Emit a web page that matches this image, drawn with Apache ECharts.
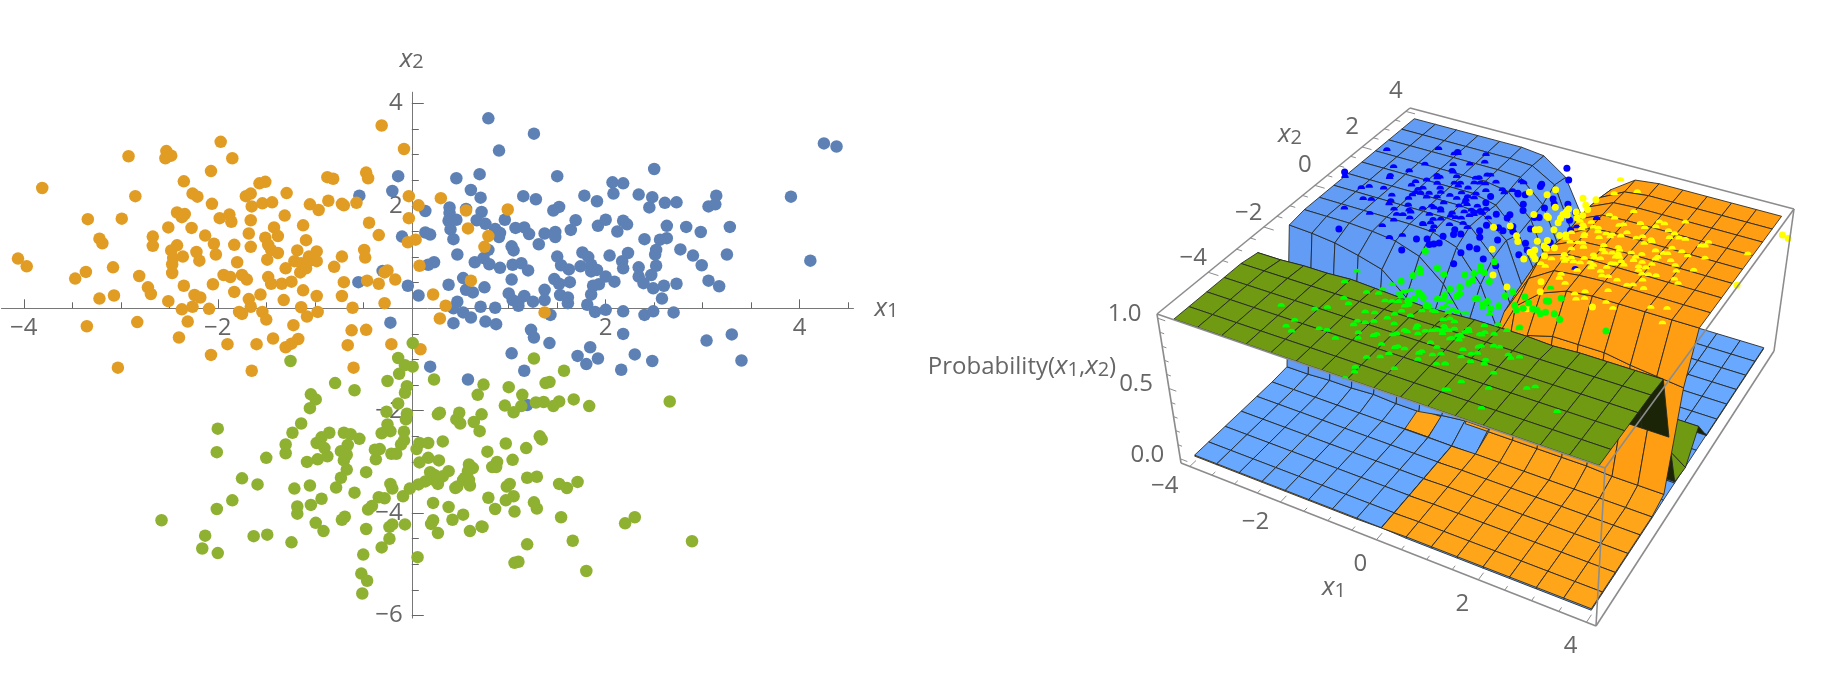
<!DOCTYPE html>
<html><head><meta charset="utf-8">
<style>html,body{margin:0;padding:0;background:#fff}#c{width:1824px;height:674px}</style>
<script src="https://cdn.jsdelivr.net/npm/echarts@6/dist/echarts.min.js"></script>
</head><body><div id="c"></div>
<script>
// ---------- data: [x1, x2]
const class1 = [[.79,3.71],[1.26,3.41],[.90,3.08],[4.25,3.22],[4.38,3.16],[-.14,2.58],[.46,2.54],[.70,2.62],[1.50,2.58],[2.50,2.72],[2.07,2.46],[2.18,2.44],[-.54,2.20],[-.20,2.29],[.61,2.31],[.71,2.16],[1.15,2.19],[1.28,2.13],[1.78,2.20],[1.91,2.09],[2.08,2.24],[2.34,2.22],[2.48,2.17],[2.45,1.97],[2.61,2.06],[2.73,2.07],[3.14,2.20],[3.06,1.99],[3.13,2.03],[3.91,2.18],[.14,1.90],[.39,1.97],[.56,1.94],[.72,1.88],[1.46,1.91],[1.52,1.98],[.39,1.86],[.38,1.71],[.46,1.73],[.67,1.72],[.76,1.65],[.96,1.73],[1.69,1.72],[2.00,1.73],[2.18,1.71],[2.22,1.64],[1.92,1.61],[2.12,1.50],[2.63,1.61],[2.83,1.59],[2.98,1.49],[3.28,1.59],[.14,1.48],[.19,1.44],[.40,1.54],[.43,1.35],[.86,1.55],[.91,1.47],[.90,1.39],[1.07,1.57],[1.16,1.58],[1.21,1.45],[1.37,1.46],[1.48,1.49],[1.48,1.39],[1.64,1.53],[-.10,1.40],[1.31,1.25],[1.03,1.21],[1.05,1.13],[.79,1.14],[2.40,1.35],[2.56,1.34],[2.63,1.37],[2.52,1.14],[2.51,1.05],[2.77,1.15],[2.90,1.03],[3.25,1.05],[4.11,.93],[.47,1.05],[1.50,1.01],[1.76,1.09],[1.82,1.00],[2.04,1.03],[2.23,1.08],[2.17,.92],[.74,.98],[.65,.90],[.80,.86],[.91,.79],[1.04,.85],[1.13,.88],[1.20,.74],[.17,.85],[.23,.90],[1.54,.84],[1.62,.76],[1.74,.82],[1.85,.85],[1.91,.75],[1.85,.72],[2.18,.78],[2.34,.80],[2.52,.83],[2.99,.84],[-.30,.73],[1.03,.56],[.53,.59],[1.47,.57],[1.52,.48],[1.63,.51],[2.00,.62],[2.09,.52],[1.87,.44],[1.93,.47],[1.85,.27],[2.34,.62],[2.47,.65],[2.39,.49],[2.49,.39],[2.60,.44],[2.73,.48],[3.06,.54],[3.17,.43],[-.04,.44],[-.55,.51],[.38,.46],[.56,.36],[.63,.31],[.75,.41],[1.37,.36],[.07,.25],[1.00,.29],[1.04,.16],[1.10,.13],[1.16,.24],[1.25,.13],[1.37,.16],[1.53,.26],[1.61,.21],[1.61,.10],[2.58,.19],[.47,.13],[.43,0],[.71,.03],[.86,.01],[1.10,.05],[1.43,-.13],[1.81,.07],[1.89,-.07],[2.00,-.03],[2.18,-.06],[2.40,-.13],[2.49,-.06],[2.70,-.08],[.53,-.08],[.61,-.18],[-.22,-.28],[.43,-.29],[.76,-.26],[.87,-.31],[2.18,-.50],[3.30,-.51],[1.23,-.42],[1.26,-.57],[1.42,-.68],[1.84,-.76],[3.04,-.63],[1.03,-.88],[1.71,-.93],[1.92,-.98],[1.80,-1.09],[2.30,-.90],[2.48,-1.03],[3.40,-1.02],[2.16,-1.20],[1.16,-1.22],[.19,-1.14],[.58,-1.39],[1.19,-1.89]];
const class2 = [[-.31,3.57],[-.08,3.11],[-1.97,3.25],[-2.92,2.97],[-2.53,3.07],[-2.48,2.98],[-2.54,2.93],[-1.85,2.93],[-2.07,2.68],[-2.35,2.48],[-.47,2.65],[-.45,2.54],[-.87,2.56],[-.81,2.53],[-1.57,2.44],[-1.51,2.47],[-3.81,2.35],[-2.85,2.19],[-2.26,2.24],[-2.21,2.18],[-1.71,2.19],[-1.66,2.24],[-1.29,2.25],[-.03,2.19],[.30,2.15],[-2.06,2.04],[-1.65,1.99],[-1.54,2.05],[-1.44,2.07],[-1.05,2.03],[-.86,2.10],[-.72,2.04],[-.70,2.01],[-.57,2.06],[.07,2.01],[-.96,1.92],[.56,1.91],[.99,1.93],[-2.42,1.87],[-2.34,1.84],[-2.37,1.78],[-2.99,1.75],[-3.34,1.74],[-1.98,1.76],[-1.88,1.83],[-1.86,1.69],[-1.66,1.72],[-1.31,1.81],[-.03,1.76],[-.44,1.67],[-2.51,1.58],[-2.27,1.57],[-1.42,1.58],[-1.12,1.62],[-1.68,1.46],[.58,1.56],[-2.67,1.40],[-2.13,1.42],[-1.51,1.38],[-1.38,1.41],[-.34,1.43],[.79,1.41],[-3.22,1.36],[-3.19,1.27],[-2.67,1.22],[-1.83,1.24],[-2.04,1.26],[-1.66,1.20],[-1.09,1.33],[-1.48,1.24],[-1.45,1.14],[-2.42,1.23],[-2.48,1.13],[-2.22,1.10],[-2.02,1.05],[-.04,1.29],[.04,1.34],[.75,1.20],[-.49,1.14],[-1.18,1.13],[-1.38,1.08],[-.98,1.11],[-2.46,.98],[-2.36,1.01],[-2.19,.93],[-1.49,.95],[-1.06,1.01],[-.48,.99],[-.72,1.01],[-1.80,.90],[-1.21,.92],[-1.14,.88],[-1.06,.92],[-.98,.92],[-2.47,.86],[-3.08,.80],[-3.97,.82],[-4.06,.97],[-3.36,.71],[-2.81,.63],[-3.47,.58],[-2.47,.69],[-1.94,.65],[-1.87,.61],[-1.75,.65],[-1.70,.56],[-1.48,.61],[-1.30,.78],[-1.15,.70],[-.80,.81],[-1.09,.78],[.08,.83],[-.25,.74],[-.28,.70],[-.46,.54],[-.17,.56],[-.34,.48],[-.70,.51],[-1.34,.48],[-1.24,.52],[-1.45,.48],[-2.05,.47],[-2.35,.44],[.61,.54],[-2.72,.41],[-2.69,.28],[-1.83,.32],[-1.56,.27],[-1.12,.35],[-3.07,.25],[-3.22,.19],[-2.24,.26],[-2.18,.21],[-.98,.24],[-.72,.24],[.22,.27],[-2.51,.14],[-1.68,.18],[-1.32,.16],[-.28,.10],[.35,.05],[-2.37,-.02],[-2.26,.03],[-2.09,-.01],[-1.66,.03],[-1.78,-.07],[-1.75,-.11],[-1.54,-.07],[-1.50,-.22],[-1.14,.02],[-.97,-.07],[-1.08,-.16],[-.61,.01],[1.37,-.08],[.29,-.20],[-3.35,-.35],[-2.83,-.27],[-2.31,-.26],[-1.22,-.33],[-.62,-.43],[-.47,-.42],[-2.40,-.57],[-1.90,-.70],[-1.60,-.70],[-1.43,-.59],[-1.17,-.60],[-1.30,-.76],[-1.24,-.69],[-.66,-.72],[-.21,-.70],[.09,-.80],[-2.07,-.91],[-3.03,-1.16],[-1.65,-1.22],[-.60,-1.16]];
const class3 = [[.01,-.68],[-.14,-.97],[1.26,-.98],[-1.25,-1.03],[-.07,-1.11],[.01,-1.14],[-.13,-1.28],[1.57,-1.22],[.23,-1.39],[-.25,-1.42],[-.79,-1.46],[.74,-1.49],[1.00,-1.54],[1.42,-1.44],[1.38,-1.46],[-.05,-1.52],[-.59,-1.60],[-.07,-1.65],[.68,-1.69],[1.14,-1.69],[-1.04,-1.68],[-.99,-1.78],[-.14,-1.86],[-1.05,-1.95],[1.67,-1.78],[1.52,-1.82],[1.36,-1.83],[1.28,-1.84],[1.46,-1.91],[1.83,-1.91],[.96,-1.90],[1.13,-1.91],[1.05,-2.03],[2.66,-1.82],[-.26,-2.02],[-.05,-2.06],[.27,-2.07],[.29,-2.04],[.49,-2.04],[.72,-2.07],[-.06,-2.17],[.46,-2.17],[.50,-2.25],[.64,-2.22],[.70,-2.40],[-.25,-2.27],[-1.14,-2.25],[-2.00,-2.35],[-.22,-2.40],[-.31,-2.44],[-.08,-2.41],[-1.23,-2.43],[-.85,-2.43],[-.70,-2.43],[-.63,-2.46],[-.54,-2.55],[-.93,-2.52],[-.98,-2.63],[-1.30,-2.66],[1.32,-2.50],[1.34,-2.56],[.32,-2.60],[.97,-2.64],[.17,-2.63],[.08,-2.63],[-.08,-2.58],[-.11,-2.66],[-.66,-2.67],[1.18,-2.73],[.05,-2.75],[-2.01,-2.81],[-1.30,-2.83],[-1.50,-2.92],[-.38,-2.76],[-.33,-2.75],[-.21,-2.84],[-.16,-2.84],[-.90,-2.73],[-.87,-2.89],[-.73,-2.79],[-.67,-2.86],[-.70,-2.97],[-.97,-2.95],[-1.08,-3.00],[.78,-2.80],[-.37,-2.95],[.17,-2.92],[.28,-2.97],[.08,-3.01],[1.04,-2.96],[.88,-3.00],[.83,-3.10],[.87,-3.10],[.59,-3.05],[.63,-3.12],[.58,-3.18],[-.67,-3.15],[-.73,-3.31],[-.47,-3.20],[.19,-3.20],[.23,-3.25],[.38,-3.18],[.32,-3.28],[.23,-3.35],[.14,-3.38],[1.19,-3.31],[1.29,-3.29],[.55,-3.31],[.59,-3.35],[.53,-3.35],[.60,-3.46],[.27,-3.43],[.45,-3.51],[.47,-3.48],[-.22,-3.43],[-.20,-3.52],[-.02,-3.52],[.07,-3.44],[-.78,-3.50],[-1.21,-3.52],[-1.05,-3.46],[-1.59,-3.44],[-1.75,-3.32],[1.01,-3.43],[.98,-3.48],[1.52,-3.43],[1.60,-3.51],[1.71,-3.39],[-.59,-3.60],[-.34,-3.69],[-.28,-3.71],[-.09,-3.67],[.79,-3.70],[-.93,-3.72],[1.05,-3.67],[.97,-3.75],[1.26,-3.79],[-1.85,-3.75],[-1.18,-3.87],[-1.04,-3.84],[.22,-3.80],[.38,-3.88],[1.29,-3.91],[-.41,-3.86],[-.45,-3.93],[-2.01,-3.92],[.86,-3.92],[1.06,-3.97],[-1.18,-4.01],[.53,-4.03],[-.69,-4.07],[-.72,-4.13],[-2.58,-4.14],[1.54,-4.08],[.22,-4.14],[.20,-4.21],[.42,-4.13],[2.30,-4.08],[2.20,-4.20],[-.07,-4.22],[-.20,-4.22],[-.23,-4.27],[-.99,-4.19],[-.91,-4.35],[-.47,-4.31],[.72,-4.26],[.73,-4.27],[.60,-4.35],[.27,-4.39],[-2.13,-4.44],[-1.63,-4.45],[-1.49,-4.42],[-1.24,-4.57],[-.23,-4.50],[1.66,-4.54],[2.89,-4.55],[-.31,-4.67],[1.19,-4.61],[-2.16,-4.69],[-2.00,-4.78],[-.50,-4.81],[.06,-4.86],[1.06,-4.97],[1.10,-4.95],[1.80,-5.13],[-.52,-5.18],[-.46,-5.32],[-.51,-5.57]];

// surface grid lines
const x1Lines = [-4,-3.5,-3,-2.5,-2,-1.5,-1,-.5,0,.5,1,1.5,2,2.5,3,3.5,4];
const x2Lines = [4,3.4,2.8,2.2,1.6,1,.4,-.2,-.8,-1.4,-2,-2.6,-3.2,-3.8,-4.4,-5,-5.5];
// class probabilities (percent) at each grid node; rows follow x2Lines, columns x1Lines
const blueProb = [
[99,99,99,99,99,99,97,85,52,14,3,1,1,1,1,1,1],
[99,99,99,99,99,99,98,88,50,12,3,1,1,1,1,1,1],
[99,99,99,99,99,99,98,82,45,10,2,1,1,1,1,1,1],
[99,99,99,99,99,99,96,80,42,9,2,1,1,1,1,1,1],
[99,99,99,99,99,99,95,78,45,12,2,1,1,1,1,1,1],
[99,99,99,99,99,99,97,83,40,10,2,1,1,1,1,1,1],
[99,99,99,99,99,99,98,80,38,8,2,1,1,1,1,1,1],
[99,99,99,99,99,98,92,70,30,7,2,1,1,1,1,1,1],
[99,99,99,98,96,90,75,50,20,5,1,1,1,1,1,1,1],
[97,96,94,90,85,70,55,30,25,20,1,1,1,1,1,1,1],
[2,2,3,3,4,3,3,6,8,8,1,1,1,1,1,1,1],
[1.2,1.2,1.2,1.2,1.2,1.2,1.2,1.2,1.2,1,.5,.5,.5,.5,.5,.5,.5],
[1.2,1.2,1.2,1.2,1.2,1.2,1.2,1.2,1.2,.5,.5,.5,.5,.5,.5,.5,.5],
[1.2,1.2,1.2,1.2,1.2,1.2,1.2,1.2,1.2,.5,.5,.5,.5,.5,.5,.5,.5],
[1.2,1.2,1.2,1.2,1.2,1.2,1.2,1.2,1.2,.5,.5,.5,.5,.5,.5,.5,.5],
[1.2,1.2,1.2,1.2,1.2,1.2,1.2,1.2,1.2,.5,.5,.5,.5,.5,.5,.5,.5],
[1.2,1.2,1.2,1.2,1.2,1.2,1.2,1.2,1.2,.5,.5,.5,.5,.5,.5,.5,.5]];
const orangeProb = [
[.5,.5,.5,.5,.5,.5,.5,12,50,85,97,99,99,99,99,99,99],
[.5,.5,.5,.5,.5,.5,.5,10,52,88,97,99,99,99,99,99,99],
[.5,.5,.5,.5,.5,.5,.5,14,55,90,98,99,99,99,99,99,99],
[.5,.5,.5,.5,.5,.5,1,16,58,90,98,99,99,99,99,99,99],
[.5,.5,.5,.5,.5,.5,1,18,55,88,98,99,99,99,99,99,99],
[.5,.5,.5,.5,.5,.5,1,14,60,90,98,99,99,99,99,99,99],
[.5,.5,.5,.5,.5,.5,1,16,60,92,98,99,99,99,99,99,99],
[.5,.5,.5,.5,.5,.5,1,14,55,85,96,98,99,99,99,99,99],
[.5,.5,.5,.5,.5,.5,1,8,40,75,90,97,99,99,99,99,99],
[.5,.5,.5,.5,.5,.5,.5,3,10,30,70,75,75,75,72,70,68],
[.5,.5,.5,.5,.5,.5,5,5,6,6,6,6,6,6,5,5,5],
[.5,.5,.5,.5,.5,.5,1.5,1.5,1,1.5,1.5,1.5,1.5,1.5,1.5,1.5,1.5],
[.5,.5,.5,.5,.5,.5,.5,.5,1,1.5,1.5,1.5,1.5,1.5,1.5,1.5,1.5],
[.5,.5,.5,.5,.5,.5,.5,.5,1,1.5,1.5,1.5,1.5,1.5,1.5,1.5,1.5],
[.5,.5,.5,.5,.5,.5,.5,.5,1,1.5,1.5,1.5,1.5,1.5,1.5,1.5,1.5],
[.5,.5,.5,.5,.5,.5,.5,.5,1,1.5,1.5,1.5,1.5,1.5,1.5,1.5,1.5],
[.5,.5,.5,.5,.5,.5,.5,.5,1,1.5,1.5,1.5,1.5,1.5,1.5,1.5,1.5]];
const greenProb = [
[.2,.2,.2,.2,.2,.2,.2,.2,.2,.2,.2,.2,.2,.2,.2,.2,.2],
[.2,.2,.2,.2,.2,.2,.2,.2,.2,.2,.2,.2,.2,.2,.2,.2,.2],
[.2,.2,.2,.2,.2,.2,.2,.2,.2,.2,.2,.2,.2,.2,.2,.2,.2],
[.2,.2,.2,.2,.2,.2,.2,.2,.2,.2,.2,.2,.2,.2,.2,.2,.2],
[.2,.2,.2,.2,.2,.2,.2,.2,.2,.2,.2,.2,.2,.2,.2,.2,.2],
[.2,.2,.2,.2,.2,.2,.2,.2,.2,.2,.2,.2,.2,.2,.2,.2,.2],
[.2,.2,.2,.2,.2,.2,.2,.2,.2,.2,.2,.2,.2,.2,.2,.2,.2],
[.2,.2,.2,.2,.2,.2,.2,.2,.2,.2,.2,.2,.2,.2,.2,18,18],
[.2,.2,.2,.2,.2,.2,.2,.2,.2,.2,.2,.2,.2,.2,.2,12,.2],
[1,1,1,1,1,1,2,2,2,2,3,3,3,3,2,2,2],
[60,60,62,60,62,60,58,60,60,60,62,60,60,45,45,45,45],
[96,96,97,97,98,97,96,95,96,97,97,97,96,97,97,97,97],
[98,98,98,98,98,98,98,98,98,98,98,98,98,98,98,98,98],
[98,98,98,98,98,98,98,98,98,98,98,98,98,98,98,98,98],
[98,98,98,98,98,98,98,98,98,98,98,98,98,98,98,98,98],
[98,98,98,98,98,98,98,98,98,98,98,98,98,98,98,98,98],
[98,98,98,98,98,98,98,98,98,98,98,98,98,98,98,98,98]];
const x1TickLabels = [-4,-2,0,2,4];
const x2TickLabels = [-4,-2,0,2,4];
const zTickLabels = [0,.5,1];
const leftXMajor = [-4,-2,2,4];
const leftYMajor = [-6,-4,-2,2,4];
const leftXMinor = [-3.5,-3,-2.5,-1.5,-1,-.5,.5,1,1.5,2.5,3,3.5,4.5];
const leftYMinor = [-5.5,-5,-4.5,-3.5,-3,-2.5,-1.5,-1,-.5,.5,1,1.5,2.5,3,3.5];

// ---------- projection of the 3D box onto the page
const FONT = '"Open Sans", sans-serif', GREY = '#666';
const box = {x1:[-4.2,4.17], x2:[-5.7,4.2], z:[-.03,1.03]};
// page position of the box corners: [x1min,x2min],[x1max,x2min],[x1max,x2max],[x1min,x2max]
const topCorners = [[1157,314],[1605,468],[1794,209],[1410,108]];
const botCorners = [[1181,463],[1596,626],[1774,351],[1415,243]];
function quadMap(q){
  const [[x0,y0],[x1,y1],[x2,y2],[x3,y3]] = q;
  const dx1=x1-x2, dx2=x3-x2, sx=x0-x1+x2-x3, dy1=y1-y2, dy2=y3-y2, sy=y0-y1+y2-y3;
  const det=dx1*dy2-dx2*dy1, g=(sx*dy2-dx2*sy)/det, h=(dx1*sy-sx*dy1)/det;
  const a=x1-x0+g*x1, b=x3-x0+h*x3, d=y1-y0+g*y1, e=y3-y0+h*y3;
  return (u,v)=>{const w=g*u+h*v+1; return [(a*u+b*v+x0)/w,(d*u+e*v+y0)/w];};
}
const mapTop=quadMap(topCorners), mapBot=quadMap(botCorners);
function project(x1,x2,z){
  const u=(x1-box.x1[0])/(box.x1[1]-box.x1[0]), v=(x2-box.x2[0])/(box.x2[1]-box.x2[0]), t=(z-box.z[0])/(box.z[1]-box.z[0]);
  const a=mapBot(u,v), b=mapTop(u,v);
  return [a[0]+(b[0]-a[0])*t, a[1]+(b[1]-a[1])*t];
}
// ---------- surface cells, painted far to near
const surfaces=[{m:blueProb,hi:'#629cf4',lo:'#69a8ff'},{m:orangeProb,hi:'#ff9e12',lo:'#ffa51a'},{m:greenProb,hi:'#6f9a12',lo:'#6f9a12'}];
const cam=[10,-22,26];
const cells=[];
surfaces.forEach((s,si)=>{
  for(let r=0;r<x2Lines.length-1;r++)for(let c=0;c<x1Lines.length-1;c++){
    const cx=(x1Lines[c]+x1Lines[c+1])/2, cy=(x2Lines[r]+x2Lines[r+1])/2;
    const cz=(s.m[r][c]+s.m[r][c+1]+s.m[r+1][c]+s.m[r+1][c+1])/400*6;
    const d=Math.hypot(cx-cam[0],cy-cam[1],cz-cam[2]);
    cells.push([r,c,si,d]);
  }
});
cells.sort((a,b)=>b[3]-a[3]);
function renderCell(params,api){
  const r=api.value(0),c=api.value(1),si=api.value(2),m=surfaces[si].m;
  const raw=[[c,r],[c+1,r],[c+1,r+1],[c,r+1]].map(([j,i])=>project(x1Lines[j],x2Lines[i],m[i][j]/100));
  let area=0; raw.forEach((p,i)=>{const q=raw[(i+1)%4];area+=p[0]*q[1]-q[0]*p[1];});
  const high=(m[r][c]+m[r][c+1]+m[r+1][c]+m[r+1][c+1])/4>30;
  const fill=(si===2&&area<0)?'#1c2408':(high?surfaces[si].hi:surfaces[si].lo);
  return {type:'polygon',shape:{points:raw.map(p=>api.coord(p))},style:{fill,stroke:'rgba(35,38,35,.85)',lineWidth:1}};
}
// ---------- frame and ticks of the box
const [bx0,bx1]=box.x1,[by0,by1]=box.x2,[bz0,bz1]=box.z;
const frameSegs=[
 [bx0,by0,bz1,bx1,by0,bz1],[bx1,by0,bz1,bx1,by1,bz1],[bx1,by1,bz1,bx0,by1,bz1],[bx0,by1,bz1,bx0,by0,bz1],
 [bx0,by0,bz1,bx0,by0,bz0],[bx1,by0,bz1,bx1,by0,bz0],[bx1,by1,bz1,bx1,by1,bz0],
 [bx0,by0,bz0,bx1,by0,bz0],[bx1,by0,bz0,bx1,by1,bz0]];
const tickSegs=[];
for(let v=-4;v<=4.01;v+=.5){const L=(v%2===0)?.22:.12;tickSegs.push([v,by0,bz0,v,by0+L,bz0]);tickSegs.push([bx0,v,bz1,bx0+L,v,bz1]);}
for(let v=0;v<=1.01;v+=.1){const L=(Math.abs(v*2-Math.round(v*2))<.01)?.16:.09;tickSegs.push([bx0,by0,v,bx0+L,by0,v]);}
function renderSeg(w,col){return function(params,api){
  const a=project(api.value(0),api.value(1),api.value(2)),b=project(api.value(3),api.value(4),api.value(5));
  const pa=api.coord(a),pb=api.coord(b);
  return {type:'line',shape:{x1:pa[0],y1:pa[1],x2:pb[0],y2:pb[1]},style:{stroke:col,lineWidth:w}};
};}
// ---------- text
const rich={n:{fontFamily:FONT,fontSize:24,fill:GREY,color:GREY},
 i:{fontFamily:FONT,fontSize:26,fontStyle:'italic',fill:GREY,color:GREY},
 s:{fontFamily:FONT,fontSize:20,fill:GREY,color:GREY,verticalAlign:'bottom',padding:[11,0,0,0],lineHeight:20}};
const fmt=v=>String(v).replace('-','\u2212');
const fmtZ=v=>v.toFixed(1);
const texts=[];
x1TickLabels.forEach(v=>{const p=project(v,by0,bz0);texts.push([p[0]-16-(v<0?9:0),p[1]+24-(v<0?4:0),'{n|'+fmt(v)+'}']);});
x2TickLabels.forEach(v=>{const p=project(bx0,v,bz1);texts.push([p[0]-10-(v<0?5:0),p[1]-20+(v<0?6:0),'{n|'+fmt(v)+'}']);});
zTickLabels.forEach(v=>{const p=project(bx0,by0,v);texts.push([p[0]-33,p[1]-4,'{n|'+fmtZ(v)+'}']);});
texts.push([1334,588,'{i|x}{s|1}']);
texts.push([1290,135,'{i|x}{s|2}']);
texts.push([1022,367,'{n|Probability(}{i|x}{s|1}{n|,}{i|x}{s|2}{n|)}']);
// a point that sits on a plateau is half sunk into the surface
const DOME='path://M-1,0A1,1 0 0 1 1,0Z';
const nearest=(arr,v)=>arr.reduce((b,a,i)=>Math.abs(a-v)<Math.abs(arr[b]-v)?i:b,0);
function topAt(x1,x2){const c=nearest(x1Lines,x1),r=nearest(x2Lines,x2);return Math.max(blueProb[r][c],orangeProb[r][c],greenProb[r][c]);}
const dots=(arr)=>arr.map(d=>{const sunk=topAt(d[0],d[1])>=96&&Math.abs(d[0])<4;return {value:project(d[0],d[1],1),symbol:sunk?DOME:'circle',symbolSize:sunk?[7.5,3.8]:7};});
function leftScatter(data,color){return {type:'scatter',xAxisIndex:0,yAxisIndex:0,data,symbolSize:12.5,itemStyle:{color,opacity:1},z:3,silent:true};}
function rightScatter(data,color){return {type:'scatter',xAxisIndex:2,yAxisIndex:2,data:dots(data),itemStyle:{color,opacity:1},z:6,silent:true,clip:false};}
const line={show:true,onZero:false,lineStyle:{color:'#777',width:1}};
const grid0={left:1.5,top:92.2,width:852,height:525.9,outerBoundsMode:'none'};
const XOFF=-309.8, YOFF=-410.3;
const option={
 animation:false,backgroundColor:'#fff',
 grid:[grid0,{left:0,top:0,width:1824,height:674,outerBoundsMode:'none'}],
 xAxis:[
  {type:'value',gridIndex:0,position:'bottom',offset:XOFF,min:-4.23,max:4.555,splitLine:{show:false},axisLine:line,
   axisTick:{show:true,inside:true,length:9,customValues:leftXMajor,lineStyle:{color:'#666'}},
   axisLabel:{show:true,customValues:leftXMajor,formatter:fmt,margin:8,fontFamily:FONT,fontSize:24,color:GREY},
   name:'{i|x}{s|1}',nameLocation:'end',nameGap:21,nameTextStyle:{rich}},
  {type:'value',gridIndex:0,position:'bottom',offset:XOFF,min:-4.23,max:4.555,splitLine:{show:false},
   axisLine:{show:false,onZero:false},axisLabel:{show:false},
   axisTick:{show:true,inside:true,length:6,customValues:leftXMinor,lineStyle:{color:'#666'}}},
  {type:'value',gridIndex:1,min:0,max:1824,show:false}],
 yAxis:[
  {type:'value',gridIndex:0,position:'left',offset:YOFF,min:-6.05,max:4.22,splitLine:{show:false},axisLine:line,
   axisTick:{show:true,inside:true,length:12,customValues:leftYMajor,lineStyle:{color:'#666'}},
   axisLabel:{show:true,customValues:leftYMajor,formatter:fmt,margin:9,fontFamily:FONT,fontSize:24,color:GREY},
   name:'{i|x}{s|2}',nameLocation:'end',nameGap:20,nameTextStyle:{rich}},
  {type:'value',gridIndex:0,position:'left',offset:YOFF,min:-6.05,max:4.22,splitLine:{show:false},
   axisLine:{show:false,onZero:false},axisLabel:{show:false},
   axisTick:{show:true,inside:true,length:7,customValues:leftYMinor,lineStyle:{color:'#666'}}},
  {type:'value',gridIndex:1,min:0,max:674,inverse:true,show:false}],
 series:[
  leftScatter(class1,'#5E81B5'),leftScatter(class2,'#E19C24'),leftScatter(class3,'#8FB131'),
  {type:'custom',xAxisIndex:2,yAxisIndex:2,data:cells,renderItem:renderCell,z:4,clip:false,silent:true,encode:{x:[],y:[]}},
  rightScatter(class2,'#0000ff'),rightScatter(class1,'#ffff00'),rightScatter(class3,'#00ff00'),
  {type:'custom',xAxisIndex:2,yAxisIndex:2,data:frameSegs,renderItem:renderSeg(1.6,'#8c8c8c'),z:7,clip:false,silent:true,encode:{x:[],y:[]}},
  {type:'custom',xAxisIndex:2,yAxisIndex:2,data:tickSegs,renderItem:renderSeg(1,'#8c8c8c'),z:7,clip:false,silent:true,encode:{x:[],y:[]}},
  {type:'custom',xAxisIndex:2,yAxisIndex:2,data:texts.map((t,i)=>[t[0],t[1],i]),z:8,clip:false,silent:true,encode:{x:0,y:1},
   renderItem(params,api){const t=texts[api.value(2)];const p=api.coord([t[0],t[1]]);
    return {type:'text',x:p[0],y:p[1],style:{text:t[2],rich,align:'center',verticalAlign:'middle'}};}}
 ]};
const chart=echarts.init(document.getElementById('c'),null,{renderer:'canvas',width:1824,height:674});
chart.setOption(option);
</script></body></html>
